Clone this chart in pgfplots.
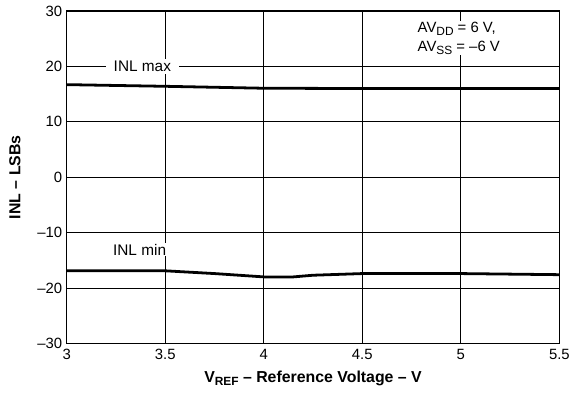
\documentclass[border=0pt]{standalone}
\usepackage{pgfplots}
\pgfplotsset{compat=1.18}
\usepackage{fontspec}
\setmainfont{Liberation Sans}
\begin{document}
\begin{tikzpicture}[x=1bp,y=1bp]
\begin{axis}[
  at={(0,0)}, anchor=south west,
  scale only axis, width=495bp, height=334bp,
  xmin=3, xmax=5.5, ymin=-30, ymax=30,
  xtick={3,3.5,4,4.5,5,5.5},
  xticklabels={3,3.5,4,4.5,5,5.5},
  ytick={-30,-20,-10,0,10,20,30},
  yticklabels={–30,–20,–10,0,10,20,30},
  tick style={draw=none},
  grid=major,
  major grid style={black, line width=0.7bp},
  axis line style={black, line width=1.6bp},
  ticklabel style={font=\fontsize{15}{17}\selectfont},
  xticklabel style={yshift=-2bp},
  yticklabel style={xshift=-1bp},
  xlabel={\textbf{V\raisebox{-0.35ex}{\fontsize{12}{13}\selectfont REF} – Reference Voltage – V}},
  ylabel={\textbf{INL – LSBs}},
  label style={font=\fontsize{16}{18}\selectfont},
  xlabel style={at={(axis description cs:0.5,-0.105)}, anchor=center},
  ylabel style={at={(axis description cs:-0.105,0.5)}, anchor=center},
  clip=false,
]
\addplot[black, line width=2.8bp, line join=round] coordinates {
 (3,16.7) (3.5,16.4) (4,16.05) (4.5,16.0) (5,16.0) (5.5,16.0)
};
\addplot[black, line width=2.8bp, line join=round] coordinates {
 (3,-16.9) (3.5,-16.9) (3.75,-17.4) (4,-18.0) (4.15,-18.0) (4.25,-17.7) (4.5,-17.4) (5,-17.4) (5.5,-17.6)
};
\node[fill=white, inner xsep=8bp, inner ysep=2bp, anchor=center, font=\fontsize{15.5}{17}\selectfont] at (axis cs:3.384,20) {INL max};
\node[fill=white, inner sep=1bp, anchor=center, font=\fontsize{15.5}{17}\selectfont] at (axis cs:3.37,-13.1) {INL min};
\node[fill=white, inner sep=1bp, anchor=west, align=left, font=\fontsize{15}{19}\selectfont] at (axis cs:4.775,25.1)
 {AV\raisebox{-0.35ex}{\fontsize{12}{13}\selectfont DD} = 6 V,\\AV\raisebox{-0.35ex}{\fontsize{12}{13}\selectfont SS} = –6 V};
\end{axis}
\path[use as bounding box] (-67,-52) rectangle (506,345);
\end{tikzpicture}
\end{document}
